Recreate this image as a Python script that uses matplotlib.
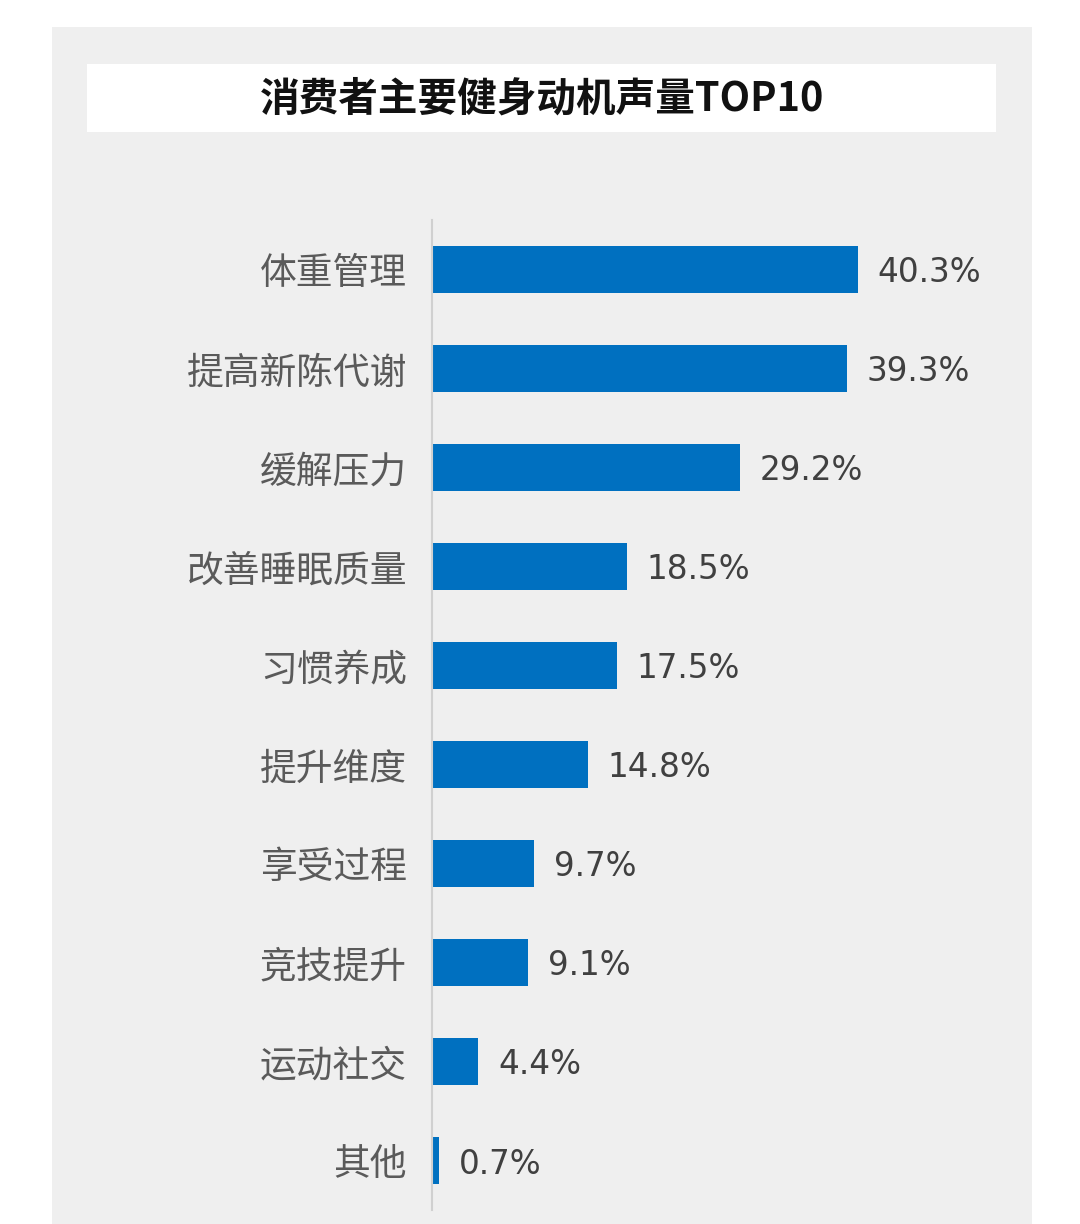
import matplotlib
matplotlib.use("Agg")
import matplotlib.pyplot as plt
from matplotlib.patches import Rectangle

plt.rcParams["font.family"] = ["Noto Sans CJK SC", "DejaVu Sans"]

categories = ["体重管理", "提高新陈代谢", "缓解压力", "改善睡眠质量", "习惯养成",
              "提升维度", "享受过程", "竞技提升", "运动社交", "其他"]
values = [40.3, 39.3, 29.2, 18.5, 17.5, 14.8, 9.7, 9.1, 4.4, 0.7]
title = "消费者主要健身动机声量TOP10"

W, H = 1080, 1224
fig = plt.figure(figsize=(W / 100, H / 100), dpi=100)
fig.patch.set_facecolor("white")

# background layer: grey panel and white title box
bg = fig.add_axes([0, 0, 1, 1], zorder=0)
bg.set_xlim(0, W)
bg.set_ylim(H, 0)
bg.axis("off")
bg.add_patch(Rectangle((52, 27), 980, 1197, facecolor="#efefef", edgecolor="none"))
bg.add_patch(Rectangle((87, 64), 909, 68, facecolor="white", edgecolor="none"))
bg.text(542, 99, title, ha="center", va="center", fontsize=28.5,
        fontweight="bold", color="#111111")

ax = fig.add_axes([432 / W, 1 - 1210 / H, 581 / W, 990 / H], zorder=2)
ax.set_facecolor("none")
pos = list(range(len(categories)))
ax.barh(pos, values, height=0.465, color="#0070c0")
ax.set_xlim(0, 55)
ax.set_ylim(len(categories) - 0.5, -0.5)
ax.set_yticks(pos)
ax.set_yticklabels(categories, fontsize=26.5, color="#5a5a5a")
ax.tick_params(axis="y", length=0, pad=18)
ax.set_xticks([])
for s in ["top", "right", "bottom"]:
    ax.spines[s].set_visible(False)
ax.spines["left"].set_color("#d0d0d0")
ax.spines["left"].set_linewidth(1.5)

for i, v in enumerate(values):
    ax.annotate(f"{v}%", (v, i), xytext=(14, 0), textcoords="offset points",
                ha="left", va="center_baseline", fontsize=23.5, color="#404040",
                family="DejaVu Sans")

fig.savefig("out.png", dpi=100)
